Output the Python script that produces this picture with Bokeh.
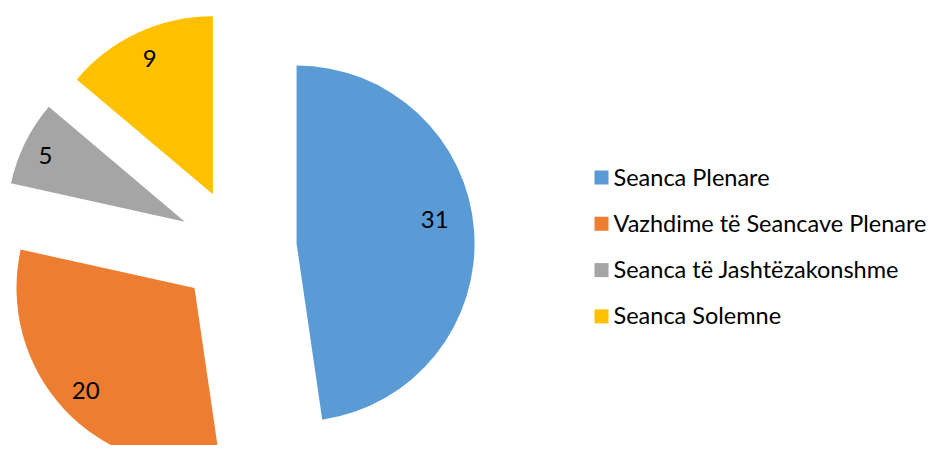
import math
from bokeh.plotting import figure
from bokeh.models import Range1d, ColumnDataSource
from bokeh.core.properties import value
from bokeh.embed import file_html
from bokeh.resources import INLINE

# ---- data ----
categories = ["Seanca Plenare", "Vazhdime të Seancave Plenare",
              "Seanca të Jashtëzakonshme", "Seanca Solemne"]
counts = [31, 20, 5, 9]
colors = ["#5B9BD5", "#ED7D31", "#A5A5A5", "#FFC000"]

# ---- layout (pixels, y up) ----
W, H = 931, 445
CX, CY = 237.2, 197.7
R = 178
EXPLODE = 59
LABEL_D = 150
label_nudge = [(-11.5, 13.5), (1, 0), (-5, 0), (0, 0)]
FONT = "Lato"

p = figure(width=W, height=H, x_range=Range1d(0, W), y_range=Range1d(0, H),
           output_backend="svg", toolbar_location=None, min_border=0)
p.axis.visible = False
p.grid.visible = False
p.outline_line_color = None
p.background_fill_color = "white"

total = sum(counts)
xs, ys, starts, ends, lx, ly, labels = [], [], [], [], [], [], []
cum = 0.0
for i, v in enumerate(counts):
    t0 = cum / total * 2 * math.pi
    cum += v
    t1 = cum / total * 2 * math.pi
    mid = (t0 + t1) / 2
    ax = CX + EXPLODE * math.sin(mid)
    ay = CY + EXPLODE * math.cos(mid)
    xs.append(ax); ys.append(ay)
    starts.append(math.pi / 2 - t0)
    ends.append(math.pi / 2 - t1)
    lx.append(ax + LABEL_D * math.sin(mid) + label_nudge[i][0])
    ly.append(ay + LABEL_D * math.cos(mid) + label_nudge[i][1])
    labels.append(str(v))

src = ColumnDataSource(dict(x=xs, y=ys, start=starts, end=ends, color=colors))
p.wedge(x="x", y="y", radius=R, start_angle="start", end_angle="end",
        direction="clock", fill_color="color", line_color=None, source=src)

p.text(x=lx, y=ly, text=labels, text_align="center", text_baseline="middle",
       text_font=value(FONT), text_font_size="24px", text_color="#000000")

# ---- legend ----
LEG_SQ_X = 601
LEG_TX = 613
LEG_Y0 = 445 - 176
LEG_STEP = 46.3
ly_leg = [LEG_Y0 - i * LEG_STEP for i in range(len(categories))]
p.rect(x=[LEG_SQ_X] * len(categories), y=[v - 1 for v in ly_leg], width=14, height=14,
       width_units="screen", height_units="screen", fill_color=colors, line_color=None)
p.text(x=[LEG_TX] * len(categories), y=ly_leg, text=categories,
       text_align="left", text_baseline="middle", text_font=value(FONT),
       text_font_size="23.5px", text_color="#000000")

open("out.html", "w").write(file_html(p, INLINE))
